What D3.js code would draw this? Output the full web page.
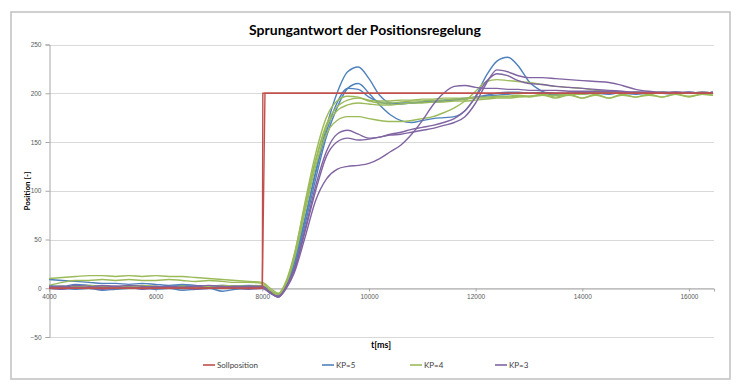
<!DOCTYPE html>
<html>
<head>
<meta charset="utf-8">
<script src="https://cdn.jsdelivr.net/npm/d3@7/dist/d3.min.js"></script>
<style>
  body { margin: 0; background: #fff; }
  svg { font-family: Lato, "Liberation Sans", sans-serif; }
</style>
</head>
<body>
<div id="chart"></div>
<script>
(function(d3) {
  'use strict';

  // time axis of the measured runs [ms]
  var times = [4000,4250,4500,4750,5000,5250,5500,5750,6000,6250,6500,6750,7000,7250,7500,7750,8000,
    8150,8300,8450,8600,
    8800,9000,9200,9400,9600,9800,10000,10200,10400,10600,10800,11000,11200,11400,11600,11800,12000,12200,12400,12600,12800,
    13000,13250,13500,13750,14000,14250,14500,14750,15000,15250,15500,15750,16000,16250,16450];

  // Sollposition (two recordings of the setpoint step)
  var sollTimesA = [4000, 8000, 8010, 16450];
  var sollTimesB = [4000, 8000, 8050, 16450];
  var sollValues = [0, 0, 200, 200];

  // KP=5 runs
  var kp5a = [9,8,7,6,5,5,4,5,4,3,4,3,2,3,2,3,2, -4,-7,3,25,
    70,120,165,200,222,227,215,198,190,189,190,191,191,192,193,194,196,197,198,199,200,
    200,200,199,200,201,200,199,201,200,200,201,200,201,200,201];
  var kp5b = [1,0,-1,0,-2,-1,0,1,-1,0,-2,-1,0,-3,-1,0,1, -5,-9,2,22,
    65,112,155,185,205,210,200,188,178,172,170,172,174,175,176,182,197,218,233,237,228,
    212,202,198,199,200,201,200,200,199,200,201,200,200,201,200];
  var kp5c = [3,2,4,3,2,1,2,3,1,2,3,2,1,2,1,2,2, -3,-6,4,28,
    72,118,160,190,205,204,196,191,189,190,190,191,192,193,194,195,196,198,200,201,201,
    200,201,200,200,199,201,200,200,201,200,200,199,201,200,201];

  // KP=4 runs
  var kp4a = [10,11,12,13,13,12,13,12,13,12,12,11,10,9,8,7,6, 0,-5,8,35,
    85,132,168,186,193,195,193,192,192,193,193,194,194,195,195,195,196,196,197,197,198,
    197,199,196,199,195,199,195,199,196,199,196,199,196,199,198];
  var kp4b = [3,6,8,8,9,8,9,8,8,9,8,7,8,7,6,6,5, -2,-6,6,32,
    82,130,165,182,188,190,189,188,188,189,190,190,191,191,192,192,193,194,195,195,196,
    197,198,198,199,199,200,200,200,201,200,200,201,200,200,200];
  var kp4c = [1,2,1,3,2,1,2,3,2,1,2,1,2,3,2,2,3, -3,-7,5,30,
    78,125,158,172,176,176,174,172,171,171,172,174,176,180,185,192,202,212,214,213,212,
    211,209,207,206,205,203,202,201,200,200,201,200,200,201,200];
  var kp4d = [0,1,2,1,0,1,2,1,0,1,2,1,0,1,2,1,1, -4,-8,6,34,
    88,138,175,192,197,196,192,190,190,191,192,192,193,193,194,194,195,195,196,196,197,
    196,198,195,198,195,198,195,198,196,198,196,199,197,199,198];

  // KP=3 runs
  var kp3a = [2,1,3,2,1,2,3,2,1,2,1,2,3,2,1,2,2, -4,-9,2,20,
    60,105,140,158,162,158,154,155,157,158,160,162,164,167,170,176,190,210,224,222,218,
    216,216,215,214,213,212,211,208,204,202,201,201,201,200,200];
  var kp3b = [0,-1,1,0,-1,0,1,-1,0,1,0,-1,0,1,0,-1,0, -5,-8,1,18,
    58,100,135,150,154,152,153,155,158,160,163,165,167,170,174,182,196,212,220,218,213,
    210,209,207,206,205,204,203,202,201,201,200,201,200,200,201];
  var kp3c = [1,2,0,1,3,2,0,1,2,0,1,2,0,1,2,1,1, -5,-9,0,16,
    52,90,112,122,125,126,128,133,140,147,158,172,188,200,207,208,206,205,205,204,204,
    203,203,203,202,202,202,202,201,201,201,200,201,200,201,200];

  var xTicks = [4000, 6000, 8000, 10000, 12000, 14000, 16000];
  var yTicks = [-50, 0, 50, 100, 150, 200, 250];
  var legendLabels = ['Sollposition', 'KP=5', 'KP=4', 'KP=3'];
  var colors = ['#C0504D', '#4F81BD', '#9BBB59', '#8064A2'];

  var width = 740, height = 384;
  var svg = d3.select('#chart').append('svg')
    .attr('width', width).attr('height', height);

  // chart frame
  svg.append('rect')
    .attr('x', 11).attr('y', 12).attr('width', 719).attr('height', 367)
    .attr('fill', '#fff').attr('stroke', '#c4c4c4').attr('stroke-width', 1.6);

  var x = d3.scaleLinear().domain([4000, 16470]).range([49, 714]);
  var y = d3.scaleLinear().domain([-50, 250]).range([337, 44.5]);

  // gridlines
  svg.append('g').selectAll('line')
    .data(yTicks).enter().append('line')
    .attr('x1', 49).attr('x2', 714)
    .attr('y1', function(d) { return Math.round(y(d)) + 0.5; })
    .attr('y2', function(d) { return Math.round(y(d)) + 0.5; })
    .attr('stroke', '#d9d9d9').attr('stroke-width', 1);

  // y axis
  var yAxis = svg.append('g')
    .attr('transform', 'translate(49.5,0)')
    .call(d3.axisLeft(y).tickValues(yTicks).tickSize(4).tickPadding(4));
  yAxis.select('.domain').attr('stroke', '#a6a6a6');
  yAxis.selectAll('.tick line').attr('stroke', '#a6a6a6');
  yAxis.selectAll('text').attr('font-size', 6.5).attr('fill', '#595959');

  // x axis sitting on the zero line
  var xAxis = svg.append('g')
    .attr('transform', 'translate(0,' + (Math.round(y(0)) + 0.5) + ')')
    .call(d3.axisBottom(x).tickValues(xTicks).tickSize(3).tickPadding(3).tickFormat(d3.format('d')));
  xAxis.select('.domain').attr('stroke', '#a6a6a6');
  xAxis.selectAll('.tick line').attr('stroke', '#a6a6a6');
  xAxis.selectAll('text').attr('font-size', 6.5).attr('fill', '#595959');

  var line = d3.line()
    .x(function(d) { return x(d[0]); })
    .y(function(d) { return y(d[1]); })
    .curve(d3.curveMonotoneX);

  var runs = [
    { c: 1, v: kp5a }, { c: 1, v: kp5b }, { c: 1, v: kp5c },
    { c: 2, v: kp4a }, { c: 2, v: kp4b }, { c: 2, v: kp4c }, { c: 2, v: kp4d },
    { c: 3, v: kp3a }, { c: 3, v: kp3b }, { c: 3, v: kp3c }
  ];

  svg.append('g').selectAll('path')
    .data(runs).enter().append('path')
    .attr('d', function(r) { return line(d3.zip(times, r.v)); })
    .attr('fill', 'none')
    .attr('stroke', function(r) { return colors[r.c]; })
    .attr('stroke-width', 1.4)
    .attr('stroke-linejoin', 'round');

  var stepLine = d3.line()
    .x(function(d) { return x(d[0]); })
    .y(function(d) { return y(d[1]); });

  svg.append('g').selectAll('path')
    .data([sollTimesA, sollTimesB]).enter().append('path')
    .attr('d', function(t) { return stepLine(d3.zip(t, sollValues)); })
    .attr('fill', 'none')
    .attr('stroke', colors[0])
    .attr('stroke-width', 1.4);

  // titles
  svg.append('text')
    .attr('x', 365).attr('y', 35)
    .attr('text-anchor', 'middle')
    .attr('font-size', 14).attr('font-weight', 'bold').attr('fill', '#000')
    .text('Sprungantwort der Positionsregelung');

  svg.append('text')
    .attr('transform', 'translate(30,191) rotate(-90)')
    .attr('text-anchor', 'middle')
    .attr('font-size', 8).attr('font-weight', 'bold').attr('fill', '#000')
    .text('Position [-]');

  svg.append('text')
    .attr('x', 381).attr('y', 348)
    .attr('text-anchor', 'middle')
    .attr('font-size', 9).attr('font-weight', 'bold').attr('fill', '#000')
    .text('t[ms]');

  // legend
  var legendX = [203, 322, 410, 495];
  var legend = svg.selectAll('.legend')
    .data(legendLabels).enter().append('g')
    .attr('class', 'legend')
    .attr('transform', function(d, i) { return 'translate(' + legendX[i] + ',365)'; });

  legend.append('line')
    .attr('x1', 0).attr('x2', 12).attr('y1', 0).attr('y2', 0)
    .attr('stroke', function(d, i) { return colors[i]; })
    .attr('stroke-width', 1.6);

  legend.append('text')
    .attr('x', 14).attr('y', 2.8)
    .attr('font-size', 8).attr('fill', '#404040')
    .text(function(d) { return d; });

})(window.d3);
</script>
</body>
</html>
